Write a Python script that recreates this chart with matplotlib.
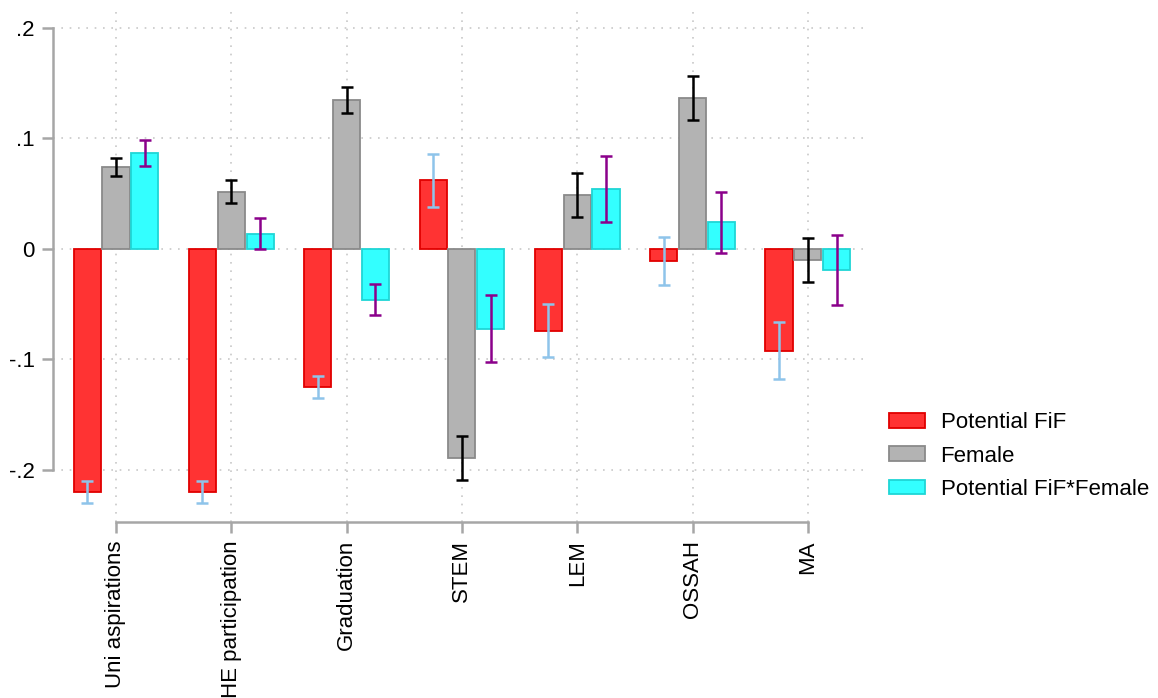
import matplotlib

matplotlib.use("Agg")
import matplotlib.pyplot as plt
import numpy as np

plt.rcParams["font.family"] = ["Liberation Sans", "DejaVu Sans"]

categories = [
    "Uni aspirations",
    "HE participation",
    "Graduation",
    "STEM",
    "LEM",
    "OSSAH",
    "MA",
]
# Point estimates and half-widths of the confidence intervals
fif = [-0.220, -0.220, -0.125, 0.062, -0.074, -0.011, -0.092]
fif_ci = [0.010, 0.010, 0.010, 0.024, 0.024, 0.022, 0.026]
female = [0.074, 0.052, 0.135, -0.189, 0.049, 0.137, -0.010]
female_ci = [0.008, 0.010, 0.012, 0.020, 0.020, 0.020, 0.020]
inter = [0.087, 0.014, -0.046, -0.072, 0.054, 0.024, -0.019]
inter_ci = [0.012, 0.014, 0.014, 0.030, 0.030, 0.028, 0.032]

ytick_vals = [-0.2, -0.1, 0, 0.1, 0.2]
ytick_labels = ["-.2", "-.1", "0", ".1", ".2"]

series = [
    ("Potential FiF", fif, fif_ci, "#ff3333", "#e00000", "#8ec4ea", -0.25),
    ("Female", female, female_ci, "#b3b3b3", "#8a8a8a", "black", 0.0),
    ("Potential FiF*Female", inter, inter_ci, "#33ffff", "#1fd6d6", "#8b008b", 0.25),
]

fig = plt.figure(figsize=(11.58, 6.98), dpi=100)
ax = fig.add_axes([0.0458, 0.2521, 0.747 - 0.0458, 0.9857 - 0.2521])

x = np.arange(1, len(categories) + 1)
width = 0.235

for label, vals, ci, fc, ec, errc, off in series:
    ax.bar(x + off, vals, width=width, color=fc, edgecolor=ec,
           linewidth=1.3, label=label, zorder=2)
    ax.errorbar(x + off, vals, yerr=ci, fmt="none", ecolor=errc,
                elinewidth=1.8, capsize=4.3, capthick=1.8, zorder=3)

ax.set_xlim(0.454, 7.496)
ax.set_ylim(-0.2471, 0.2163)

ax.set_xticks(x)
ax.set_xticklabels(categories, rotation=90, fontsize=16)
ax.set_yticks(ytick_vals)
ax.set_yticklabels(ytick_labels, fontsize=16)

ax.grid(True, linestyle=(0, (1, 4)), color="#c8c8c8", linewidth=1.2, zorder=0)
ax.set_axisbelow(True)

for side in ("top", "right"):
    ax.spines[side].set_visible(False)
for side in ("left", "bottom"):
    ax.spines[side].set_color("#a6a6a6")
    ax.spines[side].set_linewidth(1.8)
ax.spines["left"].set_bounds(-0.2, 0.2)
ax.spines["bottom"].set_bounds(1, 7)
ax.tick_params(axis="both", length=8, width=1.8, color="#a6a6a6",
               labelcolor="black", pad=5)

fig.legend(
    loc="center left",
    bbox_to_anchor=(889 / 1158, (698 - 456) / 698),
    frameon=False,
    fontsize=16,
    handlelength=1.62,
    handleheight=0.63,
    handletextpad=0.7,
    labelspacing=0.55,
    borderpad=0,
    borderaxespad=0,
)

fig.savefig("out.png", dpi=100)
